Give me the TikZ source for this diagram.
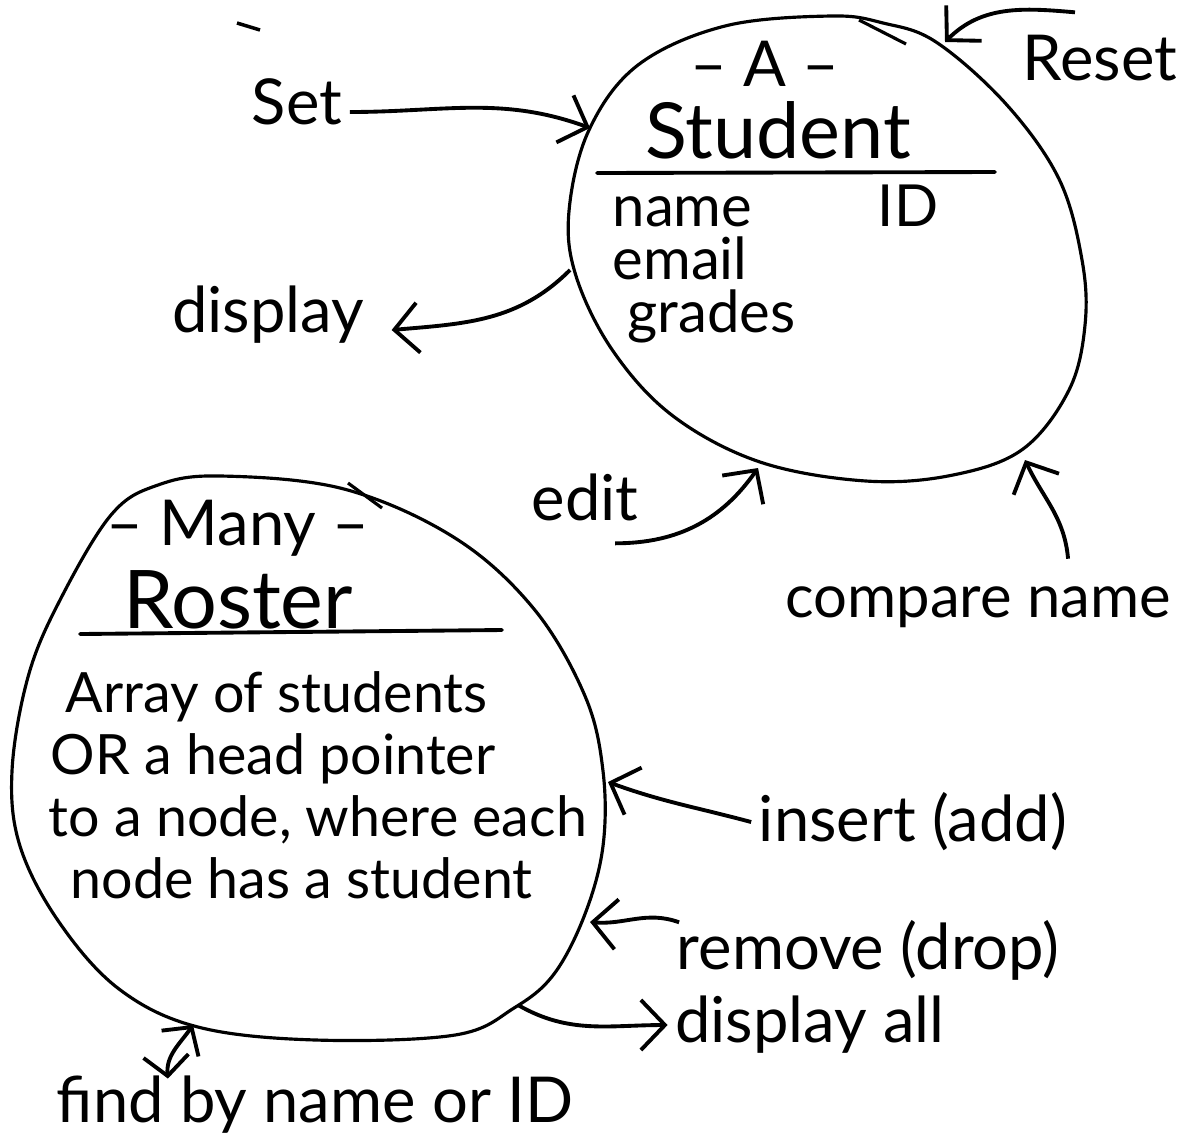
\documentclass[tikz,border=0pt]{standalone}
\usepackage{fontspec}
\setmainfont{Lato}
\usetikzlibrary{arrows.meta}

\begin{document}
\begin{tikzpicture}[x=0.01cm, y=-0.01cm,
    outline/.style={draw, line width=0.9pt},
    ttl/.style={font=\fontsize{22}{26}\selectfont, inner sep=0pt},
    body/.style={font=\fontsize{16.5}{15}\selectfont, inner sep=0pt, anchor=west, align=left},
    lbl/.style={font=\fontsize{18}{22}\selectfont, inner sep=2pt},
    barb/.tip={Straight Barb[length=2.4mm, width=5mm]},
    arr/.style={-barb, line width=1.1pt},
    rule/.style={line width=1.1pt, line cap=round}]
    \useasboundingbox (0,0) rectangle (1183,1145);

    % One student
    \draw[outline] plot[smooth cycle, tension=0.6] coordinates {(831,16) (725,26) (638,65) (589,130) (569,211)
        (576,276) (613,351) (673,416) (760,462) (866,481) (953,475) (1023,449) (1069,390) (1085,325)
        (1082,260) (1059,179) (1006,104) (936,42) (883,23)};
    \coordinate (sSet) at (590,128);
    \coordinate (sReset) at (945,42);
    \coordinate (sDisplay) at (570,270);
    \coordinate (sEdit) at (758,468);
    \coordinate (sCompare) at (1025,460);
    \draw[line width=0.9pt] (859,20) -- (906,44); % second stroke

    \node[ttl, font=\fontsize{18}{22}\selectfont] (a) at (765,64) {-- A --};
    \node[ttl] (studentname) at (778,130) {Student};
    \draw[rule] (597,173) -- (995,172); % title line
    \node[body] (fields) at (612,264) {\makebox[2.65cm][l]{name}ID\\email\\\hspace*{0.15cm}grades};

    % Many students
    \draw[outline] plot[smooth cycle, tension=0.6] coordinates {(221,476) (344,489) (455,538) (534,609) (585,696)
        (603,771) (603,846) (585,914) (554,974) (514,1008) (455,1035) (316,1040) (198,1027) (119,989)
        (59,922) (20,846) (12,771) (28,677) (59,602) (111,515) (158,485)};
    \coordinate (rInsert) at (608,782);
    \coordinate (rRemove) at (590,922);
    \coordinate (rDisplay) at (518,1005);
    \coordinate (rFind) at (193,1025);
    \draw[line width=0.9pt] (348,483) -- (382,508); % second stroke

    \node[ttl, font=\fontsize{18}{22}\selectfont] (many) at (238,528) {-- Many --};
    \node[ttl, font=\fontsize{23}{27}\selectfont] (rostername) at (238,600) {Roster};
    \draw[rule] (80,634) -- (502,630); % title line
    \node[body, font=\fontsize{15.8}{17.6}\selectfont] (content) at (48,785)
        {\hspace*{0.17cm}Array of students\\\hspace*{0.02cm}OR a head pointer\\to a node, where each\\\hspace*{0.22cm}node has a student};

    % Operations of a student
    \node[lbl] (set) at (297,102) {Set};
    \node[lbl] (reset) at (1100,58) {Reset};
    \node[lbl] (display) at (268,315) {display};
    \node[lbl] (edit) at (585,497) {edit};
    \node[lbl, font=\fontsize{17}{20}\selectfont] (compare) at (978,607) {compare name};
    \draw[line width=1pt] (237,23) -- (260,30); % stray mark

    \draw[arr] ([yshift=-0.1cm]set.east) to[out=0, in=160] (sSet);
    \draw[arr] ([xshift=-0.25cm, yshift=0.15cm]reset.north) to[out=175, in=45] (sReset);
    \draw[arr] (sDisplay) to[out=225, in=5] ([xshift=0.2cm, yshift=-0.15cm]display.east);
    \draw[arr] ([xshift=0.3cm, yshift=-0.15cm]edit.south) to[out=0, in=235] (sEdit);
    \draw[arr] ([xshift=0.9cm, yshift=0.2cm]compare.north) to[out=95, in=-65] (sCompare);

    % Operations of the roster
    \node[lbl] (insert) at (913,822) {insert (add)};
    \node[lbl] (remove) at (868,950) {remove (drop)};
    \node[lbl] (displayall) at (810,1025) {display all};
    \node[lbl] (find) at (315,1105) {find by name or ID};

    \draw[arr] (insert.west) to[out=165, in=-20] (rInsert);
    \draw[arr] ([xshift=0.1cm, yshift=-0.1cm]remove.north west) to[out=160, in=-5] (rRemove);
    \draw[arr] (rDisplay) to[out=-30, in=180] (displayall.west);
    \draw[{Straight Barb[length=2mm, width=4.5mm]}-{Straight Barb[length=2mm, width=4.5mm]}, line width=1.1pt]
        ([xshift=-1.47cm, yshift=-0.1cm]find.north) to[out=95, in=-125] (rFind);
\end{tikzpicture}
\end{document}
